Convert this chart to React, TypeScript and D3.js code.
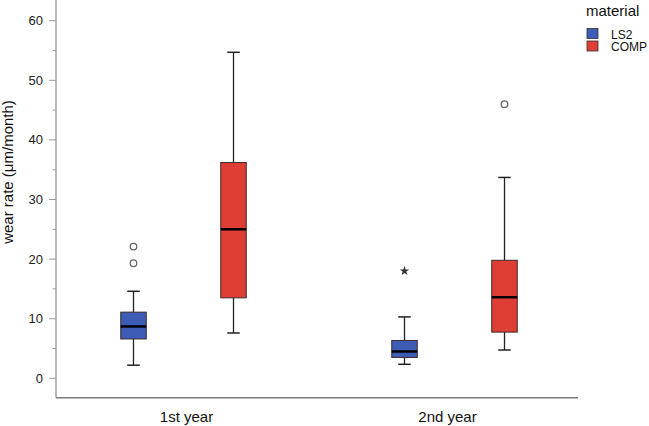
import React from "react";
import * as d3 from "d3";

// values (µm/month)
const categories = ["1st year", "2nd year"];
const materials = ["LS2", "COMP"];
const colors = ["#3d5cb6", "#de3e33"];

const ls2Stats = [
  { min: 2.2, q1: 6.6, median: 8.7, q3: 11.1, max: 14.6 },
  { min: 2.35, q1: 3.5, median: 4.5, q3: 6.35, max: 10.3 },
];
const compStats = [
  { min: 7.6, q1: 13.5, median: 25.0, q3: 36.2, max: 54.7 },
  { min: 4.75, q1: 7.75, median: 13.6, q3: 19.8, max: 33.7 },
];
const ls2Outliers = [[19.3, 22.1], []];
const compOutliers = [[], [46.0]];
const ls2Extremes = [[], [18.0]];
const compExtremes = [[], []];

const yTicks = [0, 10, 20, 30, 40, 50, 60];

export default function App() {
  const W = 649,
    H = 426;
  const left = 56,
    right = 578,
    bottom = 397.7;

  const y = d3.scaleLinear().domain([0, 60]).range([378.3, 20.7]);
  const xLabel = d3.scaleBand().domain(categories).range([left, right]);
  const xGroup = d3.scaleBand().domain(categories).range([48, 590]);
  const xInner = d3.scalePoint().domain(materials).range([-50, 50]);
  const boxW = 25.5;
  const capW = 12.5;

  const groups = [
    { mat: materials[0], stats: ls2Stats, out: ls2Outliers, ext: ls2Extremes, color: colors[0] },
    { mat: materials[1], stats: compStats, out: compOutliers, ext: compExtremes, color: colors[1] },
  ];

  const minorTicks = d3.range(5, 60, 10);
  const star = d3.symbol(d3.symbolStar, 28)();

  return (
    <svg
      width={W}
      height={H}
      style={{ position: "absolute", left: 0, top: 0, background: "#fff" }}
      fontFamily="Liberation Sans, Arial, sans-serif"
    >
      {/* axes */}
      <line x1={left} x2={left} y1={0} y2={bottom} stroke="#8a8a8a" strokeWidth={1.2} />
      <line x1={left} x2={right} y1={bottom} y2={bottom} stroke="#7a7a7a" strokeWidth={1.5} />
      {yTicks.map((t) => (
        <g key={t}>
          <line x1={49} x2={left} y1={y(t)} y2={y(t)} stroke="#9a9a9a" />
          <text x={43} y={y(t) + 4.5} textAnchor="end" fontSize={13} fill="#222">
            {t}
          </text>
        </g>
      ))}
      {minorTicks.map((t) => (
        <line key={t} x1={52.5} x2={left} y1={y(t)} y2={y(t)} stroke="#9a9a9a" />
      ))}
      <text
        transform={`translate(13, 172) rotate(-90)`}
        textAnchor="middle"
        fontSize={15}
        fill="#111"
      >
        wear rate (μm/month)
      </text>
      {categories.map((c) => (
        <text
          key={c}
          x={(xLabel(c) as number) + xLabel.bandwidth() / 2}
          y={422}
          textAnchor="middle"
          fontSize={15}
          fill="#111"
        >
          {c}
        </text>
      ))}

      {/* boxes */}
      {groups.map((g) =>
        categories.map((c, i) => {
          const s = g.stats[i];
          const cx =
            (xGroup(c) as number) + xGroup.bandwidth() / 2 + (xInner(g.mat) as number);
          return (
            <g key={g.mat + c}>
              <line x1={cx} x2={cx} y1={y(s.max)} y2={y(s.q3)} stroke="#222" strokeWidth={1.3} />
              <line x1={cx} x2={cx} y1={y(s.q1)} y2={y(s.min)} stroke="#222" strokeWidth={1.3} />
              <line x1={cx - capW / 2} x2={cx + capW / 2} y1={y(s.max)} y2={y(s.max)} stroke="#222" strokeWidth={1.5} />
              <line x1={cx - capW / 2} x2={cx + capW / 2} y1={y(s.min)} y2={y(s.min)} stroke="#222" strokeWidth={1.5} />
              <rect
                x={cx - boxW / 2}
                y={y(s.q3)}
                width={boxW}
                height={y(s.q1) - y(s.q3)}
                fill={g.color}
                stroke="#3a2a2a"
                strokeWidth={1}
              />
              <line x1={cx - boxW / 2} x2={cx + boxW / 2} y1={y(s.median)} y2={y(s.median)} stroke="#000" strokeWidth={2.5} />
              {g.out[i].map((v, k) => (
                <circle key={k} cx={cx} cy={y(v)} r={3.3} fill="#fff" stroke="#666" strokeWidth={1.3} />
              ))}
              {g.ext[i].map((v, k) => (
                <path key={k} d={star as string} transform={`translate(${cx}, ${y(v)})`} fill="#333" />
              ))}
            </g>
          );
        })
      )}

      {/* legend */}
      <text x={586} y={16} fontSize={15} fill="#111">
        material
      </text>
      {materials.map((m, i) => (
        <g key={m}>
          <rect x={587} y={28.5 + i * 12.5} width={11} height={10} fill={colors[i]} stroke="#333" strokeWidth={0.8} />
          <text x={611} y={38.5 + i * 12.5} fontSize={12} fill="#111">
            {m}
          </text>
        </g>
      ))}
    </svg>
  );
}
